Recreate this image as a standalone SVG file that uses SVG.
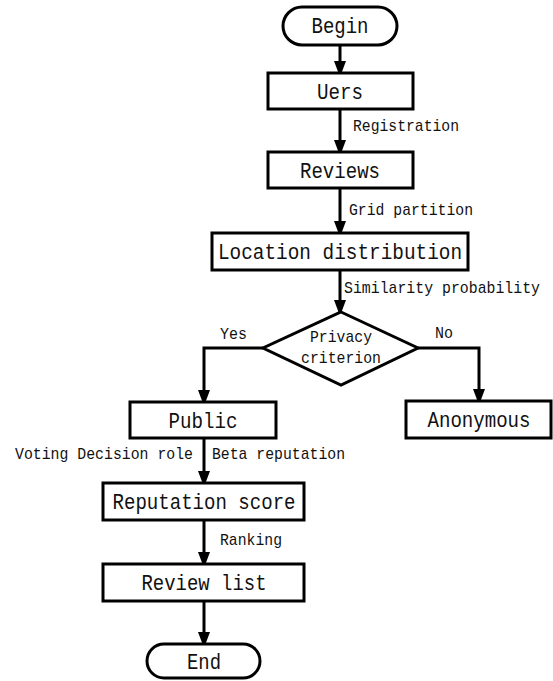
<svg xmlns="http://www.w3.org/2000/svg" width="553" height="681" viewBox="0 0 553 681">
<defs>
<marker id="arr" viewBox="0 0 12 16" refX="12" refY="6" markerWidth="12" markerHeight="16" markerUnits="userSpaceOnUse" orient="auto">
<path d="M0,0 L16,6 L0,12 Z" fill="#000"/>
</marker>
<style>
.box{fill:#fff;stroke:#000;stroke-width:3}
.big{font-family:"Liberation Mono",monospace;font-size:22px;fill:#111;text-anchor:middle}
.sm{font-family:"Liberation Mono",monospace;font-size:17px;fill:#111}
.ln{fill:none;stroke:#000;stroke-width:3}
</style>
</defs>
<rect width="553" height="681" fill="#fff"/>
<g id="connectors">
<line class="ln" x1="340" y1="45" x2="340" y2="73" marker-end="url(#arr)"/>
<line class="ln" x1="340" y1="109" x2="340" y2="152" marker-end="url(#arr)"/>
<line class="ln" x1="340" y1="188" x2="340" y2="233" marker-end="url(#arr)"/>
<line class="ln" x1="340" y1="270" x2="340" y2="312" marker-end="url(#arr)"/>
<polyline class="ln" points="263,348 204,348 204,402" marker-end="url(#arr)"/>
<polyline class="ln" points="418,348 479,348 479,401" marker-end="url(#arr)"/>
<line class="ln" x1="204" y1="438" x2="204" y2="483" marker-end="url(#arr)"/>
<line class="ln" x1="204" y1="520" x2="204" y2="564" marker-end="url(#arr)"/>
<line class="ln" x1="204" y1="601" x2="204" y2="644" marker-end="url(#arr)"/>
<text class="sm" x="353" y="131" textLength="106" lengthAdjust="spacingAndGlyphs">Registration</text>
<text class="sm" x="349" y="215" textLength="124" lengthAdjust="spacingAndGlyphs">Grid partition</text>
<text class="sm" x="344" y="293" textLength="196" lengthAdjust="spacingAndGlyphs">Similarity probability</text>
<text class="sm" x="220" y="339" textLength="27" lengthAdjust="spacingAndGlyphs">Yes</text>
<text class="sm" x="435" y="338" textLength="18" lengthAdjust="spacingAndGlyphs">No</text>
<text class="sm" x="15" y="459" textLength="178" lengthAdjust="spacingAndGlyphs">Voting Decision role</text>
<text class="sm" x="212" y="459" textLength="133" lengthAdjust="spacingAndGlyphs">Beta reputation</text>
<text class="sm" x="220" y="545" textLength="62" lengthAdjust="spacingAndGlyphs">Ranking</text>
</g>
<g id="begin">
<rect class="box" x="283" y="7" width="114" height="38" rx="19"/>
<text class="big" x="340" y="33" textLength="57" lengthAdjust="spacingAndGlyphs">Begin</text>
</g>
<g id="uers">
<rect class="box" x="268" y="73" width="145" height="36"/>
<text class="big" x="340" y="99" textLength="46" lengthAdjust="spacingAndGlyphs">Uers</text>
</g>
<g id="reviews">
<rect class="box" x="268" y="152" width="145" height="36"/>
<text class="big" x="340" y="178" textLength="80" lengthAdjust="spacingAndGlyphs">Reviews</text>
</g>
<g id="location">
<rect class="box" x="212" y="233" width="256" height="37"/>
<text class="big" x="340" y="259" textLength="244" lengthAdjust="spacingAndGlyphs">Location distribution</text>
</g>
<g id="privacy">
<polygon class="box" points="341,312 418,348 341,385 263,348"/>
<text class="sm" x="341" y="342" text-anchor="middle" textLength="62" lengthAdjust="spacingAndGlyphs">Privacy</text>
<text class="sm" x="341" y="363" text-anchor="middle" textLength="80" lengthAdjust="spacingAndGlyphs">criterion</text>
</g>
<g id="public">
<rect class="box" x="130" y="402" width="146" height="36"/>
<text class="big" x="203" y="428" textLength="69" lengthAdjust="spacingAndGlyphs">Public</text>
</g>
<g id="anonymous">
<rect class="box" x="406" y="401" width="145" height="37"/>
<text class="big" x="479" y="427" textLength="103" lengthAdjust="spacingAndGlyphs">Anonymous</text>
</g>
<g id="reputation">
<rect class="box" x="103" y="483" width="201" height="37"/>
<text class="big" x="204" y="509" textLength="183" lengthAdjust="spacingAndGlyphs">Reputation score</text>
</g>
<g id="reviewlist">
<rect class="box" x="103" y="564" width="201" height="37"/>
<text class="big" x="204" y="590" textLength="125" lengthAdjust="spacingAndGlyphs">Review list</text>
</g>
<g id="end">
<rect class="box" x="147" y="644" width="113" height="34" rx="17"/>
<text class="big" x="204" y="669" textLength="34" lengthAdjust="spacingAndGlyphs">End</text>
</g>
</svg>
